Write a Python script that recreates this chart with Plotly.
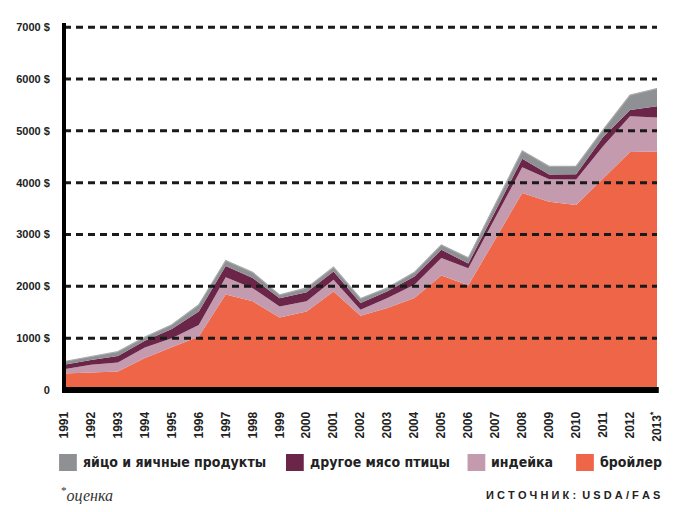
import plotly.graph_objects as go

years = [1991, 1992, 1993, 1994, 1995, 1996, 1997, 1998, 1999, 2000, 2001, 2002,
         2003, 2004, 2005, 2006, 2007, 2008, 2009, 2010, 2011, 2012, 2013]
year_labels = [str(y) for y in years[:-1]] + ["2013<sup>*</sup>"]

broiler = [320, 335, 355, 615, 825, 1030, 1840, 1710, 1400, 1515, 1900, 1430,
           1580, 1775, 2210, 2020, 2910, 3800, 3630, 3570, 4080, 4590, 4600]
turkey = [80, 150, 175, 205, 175, 225, 335, 255, 210, 195, 225, 120,
          195, 255, 335, 330, 415, 495, 435, 490, 620, 690, 655]
other = [85, 95, 125, 130, 175, 260, 215, 195, 160, 175, 160, 130,
         130, 160, 160, 90, 125, 165, 90, 100, 180, 120, 220]
eggs = [65, 65, 85, 70, 85, 130, 110, 110, 65, 85, 85, 85,
        65, 80, 95, 110, 130, 155, 160, 160, 140, 290, 340]

series_names = ["бройлер", "индейка", "другое мясо птицы", "яйцо и яичные продукты"]
series_values = [broiler, turkey, other, eggs]
series_colors = ["#ee6548", "#c39aae", "#6a2549", "#8e9093"]

y_ticks = [0, 1000, 2000, 3000, 4000, 5000, 6000, 7000]
y_labels = ["0"] + ["%d $" % v for v in y_ticks[1:]]

# the page puts the figure 8px in from the corner; keep the whole page
# inside the window so no scrollbars show up (positions below are page px)
OFF = 8
W, H = 680 - 2 * OFF, 512 - 2 * OFF
L, R, T, B = 63 - OFF, 664 - OFF, 23 - OFF, 390 - OFF


def px(x):
    return (x - OFF - L) / (R - L)


def py(y):
    return (B - (y - OFF)) / (B - T)


fig = go.Figure()
for name, vals, col in zip(series_names, series_values, series_colors):
    is_top = name == series_names[-1]
    fig.add_trace(go.Scatter(
        x=years, y=vals, name=name, stackgroup="one", mode="lines",
        line=dict(width=1.2 if is_top else 0, color="#a9abad" if is_top else col),
        fillcolor=col, showlegend=False))

shapes = []
# dashed gridlines over the areas
for v in y_ticks[1:]:
    shapes.append(dict(type="line", xref="paper", yref="y", x0=0, x1=1, y0=v, y1=v,
                       line=dict(color="#1a1a1a", width=3, dash="7px,5px"), layer="above"))
# axis lines
shapes.append(dict(type="line", xref="paper", yref="paper", x0=0, x1=1.003, y0=0, y1=0,
                   line=dict(color="black", width=6), layer="above"))
shapes.append(dict(type="line", xref="paper", yref="paper", x0=0, x1=0, y0=-0.008, y1=1,
                   line=dict(color="black", width=4), layer="above"))

# legend drawn by hand
legend_x = [58, 288, 472, 582]
annotations = []
for i, idx in enumerate([3, 2, 1, 0]):
    x0 = legend_x[i]
    shapes.append(dict(type="rect", xref="paper", yref="paper",
                       x0=px(x0), x1=px(x0 + 18), y0=py(454), y1=py(471),
                       fillcolor=series_colors[idx], line=dict(width=0)))
    annotations.append(dict(xref="paper", yref="paper", x=px(x0 + 22), y=py(462),
                            xanchor="left", yanchor="middle", showarrow=False,
                            text="<b>%s</b>" % series_names[idx],
                            font=dict(family="DejaVu Sans Condensed", size=14, color="#222")))

annotations.append(dict(xref="paper", yref="paper", x=px(58), y=py(494),
                        xanchor="left", yanchor="middle", showarrow=False,
                        text="<sup>*</sup><i>оценка</i>",
                        font=dict(family="Liberation Serif", size=16, color="#333")))
gap = "\u2009\u200a"
annotations.append(dict(xref="paper", yref="paper", x=px(669), y=py(495),
                        xanchor="right", yanchor="middle", showarrow=False,
                        text="<b>" + gap.join("ИСТОЧНИК:") + gap + gap +
                             gap.join("USDA/FAS") + "</b>",
                        font=dict(family="Liberation Sans", size=11, color="#222")))

fig.update_layout(
    width=W, height=H,
    margin=dict(l=L, r=W - R, t=T, b=H - B),
    paper_bgcolor="white", plot_bgcolor="white",
    showlegend=False,
    shapes=shapes, annotations=annotations,
    xaxis=dict(range=[1991, 2013], tickvals=years, ticktext=year_labels,
               tickangle=-90, showgrid=False, zeroline=False, showline=False,
               ticks="outside", ticklen=16, tickcolor="rgba(0,0,0,0)",
               tickfont=dict(family="Liberation Sans", size=12, weight="bold", color="#222")),
    yaxis=dict(range=[0, 7080], tickvals=y_ticks, ticktext=y_labels,
               showgrid=False, zeroline=False, showline=False,
               ticks="outside", ticklen=11, tickcolor="rgba(0,0,0,0)",
               tickfont=dict(family="Liberation Sans", size=11, weight="bold", color="#222")),
)

fig.write_html("out.html")
